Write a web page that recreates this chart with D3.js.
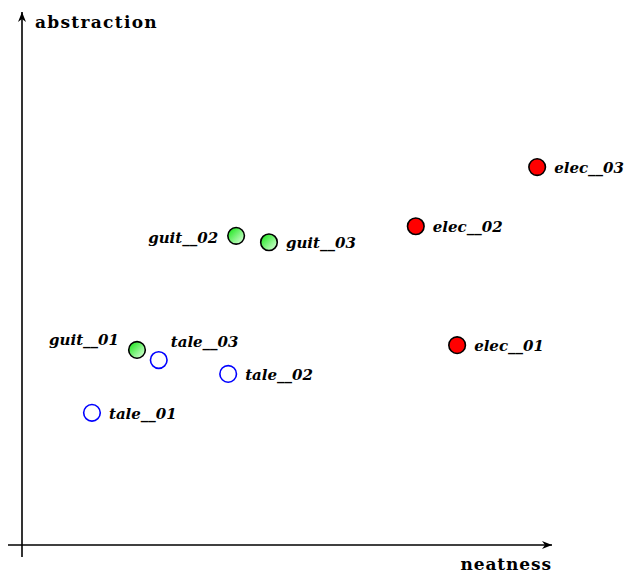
<!DOCTYPE html>
<html><head><meta charset="utf-8">
<script src="https://cdn.jsdelivr.net/npm/d3@7"></script>
<style>body{margin:0;background:#fff}svg{display:block}</style>
</head><body>
<script>
const names = ["elec__01","elec__02","elec__03","guit__01","guit__02","guit__03","tale__01","tale__02","tale__03"];
const neatness = [8.21, 7.43, 9.72, 2.17, 4.04, 4.66, 1.32, 3.89, 2.58];
const abstraction = [3.75, 5.98, 7.09, 3.66, 5.80, 5.68, 2.48, 3.21, 3.47];
const groups = ["elec","elec","elec","guit","guit","guit","tale","tale","tale"];
const labelPos = ["right","right","right","upleft","left","right","right","right","upright"];
const axisLabels = ["neatness","abstraction"];

const W = 624, H = 573;
const svg = d3.select("body").append("svg").attr("width", W).attr("height", H);
const x = d3.scaleLinear().domain([0, 10]).range([22, 552]);
const y = d3.scaleLinear().domain([0, 10]).range([545, 12]);

const defs = svg.append("defs");
const g = defs.append("linearGradient").attr("id","gg").attr("x1","0.1").attr("y1","0.1").attr("x2","0.9").attr("y2","0.9");
g.append("stop").attr("offset","0").attr("stop-color","#22e622");
g.append("stop").attr("offset","1").attr("stop-color","#d2ffd2");
defs.append("marker").attr("id","arr").attr("viewBox","0 0 10 10").attr("refX",10).attr("refY",5)
  .attr("markerWidth",10).attr("markerHeight",10).attr("markerUnits","userSpaceOnUse").attr("orient","auto")
  .append("path").attr("d","M0,1 L10,5 L0,9 L3,5 Z").attr("fill","#000");

svg.append("line").attr("x1", 8).attr("x2", x(10)).attr("y1", y(0)).attr("y2", y(0))
  .attr("stroke","#000").attr("stroke-width",1.6).attr("marker-end","url(#arr)");
svg.append("line").attr("x1", x(0)).attr("x2", x(0)).attr("y1", 557).attr("y2", y(10))
  .attr("stroke","#000").attr("stroke-width",1.6).attr("marker-end","url(#arr)");

svg.append("text").attr("x", x(10)).attr("y", 570).attr("text-anchor","end")
  .attr("font-family","DejaVu Serif").attr("font-weight","bold").attr("font-size",17)
  .attr("letter-spacing",0.9).text(axisLabels[0]);
svg.append("text").attr("x", 35).attr("y", 28)
  .attr("font-family","DejaVu Serif").attr("font-weight","bold").attr("font-size",17)
  .attr("letter-spacing",1.3).text(axisLabels[1]);

const data = names.map((n,i)=>({n, x:neatness[i], y:abstraction[i], g:groups[i], p:labelPos[i]}));
const fill = {elec:"#ff0000", guit:"url(#gg)", tale:"none"};
const stroke = {elec:"#000", guit:"#000", tale:"#0000ff"};

svg.selectAll("circle.pt").data(data).join("circle").attr("class","pt")
  .attr("cx", d=>x(d.x)).attr("cy", d=>y(d.y)).attr("r", 8.3)
  .attr("fill", d=>fill[d.g]).attr("stroke", d=>stroke[d.g]).attr("stroke-width", 1.6);

const off = {right:[17,6,"start"], left:[-18,7,"end"], upleft:[-18,-5,"end"], upright:[12,-13,"start"]};
svg.selectAll("text.lb").data(data).join("text").attr("class","lb")
  .attr("x", d=>x(d.x)+off[d.p][0]).attr("y", d=>y(d.y)+off[d.p][1])
  .attr("text-anchor", d=>off[d.p][2])
  .attr("font-family","DejaVu Serif").attr("font-style","italic").attr("font-weight","bold").attr("font-size",15)
  .text(d=>d.n);
</script>
</body></html>
